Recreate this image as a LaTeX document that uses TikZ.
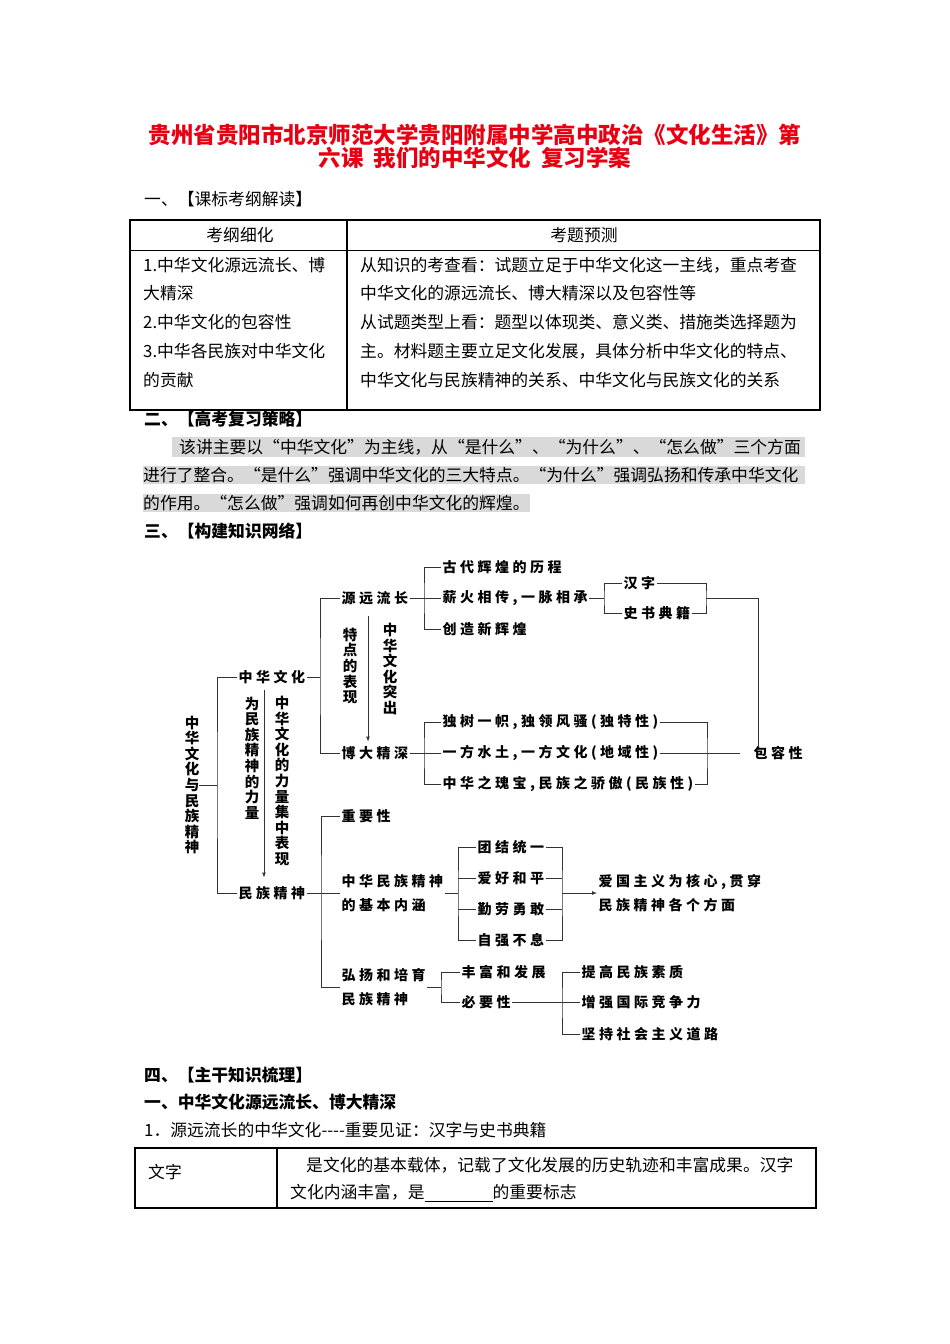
\documentclass[tikz,border=0pt]{standalone}
\usepackage{fontspec}
\setmainfont{Noto Sans CJK SC}
\newfontfamily\dgfont{Noto Sans CJK SC}[LetterSpace=25]
\usetikzlibrary{arrows}
\definecolor{titlered}{RGB}{232,0,18}
\tikzstyle{ttl} = [inner sep=0pt, align=center, text=titlered, font=\bfseries\fontsize{22.5}{23}\selectfont]
\tikzstyle{txt} = [anchor=west, inner sep=0pt, font=\fontsize{16.8}{20}\selectfont]
\tikzstyle{head} = [txt, font=\bfseries\fontsize{16.8}{20}\selectfont]
\tikzstyle{hl} = [txt, fill=black!15, inner ysep=1.5pt, align=left]
\tikzstyle{item} = [anchor=west, inner xsep=1.5pt, inner ysep=0pt, align=left, font=\dgfont\bfseries\fontsize{14}{24}\selectfont]
\tikzstyle{vtext} = [inner sep=0pt, align=center, font=\bfseries\fontsize{14.5}{15.6}\selectfont]
\tikzstyle{conn} = [line width=0.7pt, black!80]
\tikzstyle{arrow} = [conn, ->, >=latex]
\tikzstyle{frame} = [line width=1.6pt]

\begin{document}
\begin{tikzpicture}[x=1pt,y=-1pt]
    \path[use as bounding box, fill=white] (0,0) rectangle (950,1344);

    \node[ttl] (title) at (475,146.5) {贵州省贵阳市北京师范大学贵阳附属中学高中政治《文化生活》第\\六课\hspace{10pt}我们的中华文化\hspace{10pt}复习学案};
    \node[txt] (s1) at (144,199) {一、【课标考纲解读】};

    % table 1
    \draw[frame] (130,220) rectangle (820,410);
    \draw[line width=0.6pt] (130,250) -- (820,250);
    \draw[line width=1.2pt] (347,220) -- (347,410);
    \node[txt, anchor=center] (h1) at (240,235) {考纲细化};
    \node[txt, anchor=center] (h2) at (584,235) {考题预测};
    \node[txt] (a1) at (143,265) {1.中华文化源远流长、博};
    \node[txt] (a2) at (143,293) {大精深};
    \node[txt] (a3) at (143,322) {2.中华文化的包容性};
    \node[txt] (a4) at (143,351) {3.中华各民族对中华文化};
    \node[txt] (a5) at (143,380) {的贡献};
    \node[txt] (b1) at (360,265) {从知识的考查看：试题立足于中华文化这一主线，重点考查};
    \node[txt] (b2) at (360,293) {中华文化的源远流长、博大精深以及包容性等};
    \node[txt] (b3) at (360,322) {从试题类型上看：题型以体现类、意义类、措施类选择题为};
    \node[txt] (b4) at (360,351) {主。材料题主要立足文化发展，具体分析中华文化的特点、};
    \node[txt] (b5) at (360,380) {中华文化与民族精神的关系、中华文化与民族文化的关系};

    \node[head] (s2) at (144,419) {二、【高考复习策略】};
    \node[hl, text width=633pt] (p1) at (172,447) {\hspace*{7pt}该讲主要以“中华文化”为主线，从“是什么”、“为什么”、“怎么做”三个方面};
    \node[hl, text width=662pt] (p2) at (143,475) {进行了整合。“是什么”强调中华文化的三大特点。“为什么”强调弘扬和传承中华文化};
    \node[hl, text width=387pt] (p3) at (143,503) {的作用。“怎么做”强调如何再创中华文化的辉煌。};

    \node[head] (s3) at (144,531) {三、【构建知识网络】};

    % knowledge network
    \node[vtext] (root) at (192,785) {中\\华\\文\\化\\与\\民\\族\\精\\神};
    \node[item] (zhwh) at (237,677) {中华文化};
    \node[item] (mzjs) at (237,893) {民族精神};
    \coordinate (j0) at (217,785);
    \draw[conn] (zhwh.west) -| (j0) |- (mzjs.west);
    \draw[conn] (root.east) -- (j0);

    \node[item] (yylc) at (340,598) {源远流长};
    \node[item] (bdjs) at (340,753) {博大精深};
    \coordinate (j1) at (320,677);
    \draw[conn] (yylc.west) -| (j1) |- (bdjs.west);
    \draw[conn] (zhwh.east) -- (j1);

    \node[vtext] (tdb) at (350,666) {特\\点\\的\\表\\现};
    \node[vtext] (tc) at (390,669) {中\\华\\文\\化\\突\\出};
    \draw[arrow, shorten <=11.5pt, shorten >=4.5pt] ([xshift=28pt]yylc.south west) -- ([xshift=28pt]bdjs.north west);

    \node[vtext] (wmz) at (252,758) {为\\民\\族\\精\\神\\的\\力\\量};
    \node[vtext] (zhl) at (282,781) {中\\华\\文\\化\\的\\力\\量\\集\\中\\表\\现};
    \draw[arrow, shorten <=6pt, shorten >=8.5pt] ([xshift=27pt]zhwh.south west) -- ([xshift=27pt]mzjs.north west);

    \node[item] (gd) at (441,567) {古代辉煌的历程};
    \node[item] (xh) at (441,598) {薪火相传,一脉相承};
    \node[item] (cz) at (441,629) {创造新辉煌};
    \coordinate (j2) at (424,598);
    \draw[conn] (gd.west) -| (j2) |- (cz.west);
    \draw[conn] (yylc.east) -- (xh.west);

    \node[item] (hz) at (622,583) {汉字};
    \node[item] (ss) at (622,613) {史书典籍};
    \coordinate (j3) at (604,598);
    \coordinate (j4) at (706,598);
    \draw[conn] (hz.west) -| (j3) |- (ss.west);
    \draw[conn] (xh.east) -- (j3);
    \draw[conn] (hz.east) -| (j4) |- (ss.east);

    \node[item] (brx) at (752,753) {包容性};
    \draw[conn] (j4) -| ([xshift=6pt]brx.north west);

    \node[item] (dsh) at (441,722) {独树一帜,独领风骚(独特性)};
    \node[item] (dy) at (441,753) {一方水土,一方文化(地域性)};
    \node[item] (zhzg) at (441,784) {中华之瑰宝,民族之骄傲(民族性)};
    \coordinate (j5) at (424,753);
    \coordinate (j6) at (707,753);
    \draw[conn] (dsh.west) -| (j5) |- (zhzg.west);
    \draw[conn] (bdjs.east) -- (dy.west);
    \draw[conn] (dsh.east) -| (j6) |- (zhzg.east);
    \draw[conn] (dy.east) -- ([xshift=-12pt]brx.west);

    \node[item] (zyx) at (340,816) {重要性};
    \node[item] (jbnh) at (340,893) {中华民族精神\\的基本内涵};
    \node[item] (hy) at (340,987) {弘扬和培育\\民族精神};
    \coordinate (j7) at (321,893);
    \draw[conn] (zyx.west) -| (j7) |- (hy.west);
    \draw[conn] (mzjs.east) -- (jbnh.west);

    \node[item] (tj) at (476,847) {团结统一};
    \node[item] (ah) at (476,878) {爱好和平};
    \node[item] (ql) at (476,909) {勤劳勇敢};
    \node[item] (zq) at (476,940) {自强不息};
    \coordinate (j8) at (458,893);
    \coordinate (j9) at (562,893);
    \draw[conn] (tj.west) -| (j8) |- (zq.west);
    \draw[conn] (ah.west) -- (ah.west -| j8);
    \draw[conn] (ql.west) -- (ql.west -| j8);
    \draw[conn] (jbnh.east) -- (j8);
    \draw[conn] (tj.east) -| (j9) |- (zq.east);
    \draw[conn] (ah.east) -- (ah.east -| j9);
    \draw[conn] (ql.east) -- (ql.east -| j9);
    \node[item] (agz) at (597,893) {爱国主义为核心,贯穿\\民族精神各个方面};
    \draw[arrow] (j9) -- (agz.west);

    \node[item] (ff) at (460,972) {丰富和发展};
    \node[item] (byx) at (460,1002) {必要性};
    \coordinate (j10) at (441,987);
    \draw[conn] (ff.west) -| (j10) |- (byx.west);
    \draw[conn] (hy.east) -- (j10);

    \node[item] (tg) at (580,972) {提高民族素质};
    \node[item] (zz) at (580,1002) {增强国际竞争力};
    \node[item] (jc) at (580,1034) {坚持社会主义道路};
    \coordinate (j11) at (562,1002);
    \draw[conn] (tg.west) -| (j11) |- (jc.west);
    \draw[conn] (byx.east) -- (zz.west);

    \node[head] (s4) at (144,1075) {四、【主干知识梳理】};
    \node[head] (s5) at (144,1102) {一、中华文化源远流长、博大精深};
    \node[txt] (s6) at (144,1130) {1．源远流长的中华文化-\kern0pt-\kern0pt-\kern0pt-重要见证：汉字与史书典籍};

    % table 2
    \draw[frame] (135,1148) rectangle (816,1208);
    \draw[line width=1.2pt] (277,1148) -- (277,1208);
    \node[txt] (wz) at (148,1172) {文字};
    \node[txt] (d1) at (306,1165) {是文化的基本载体，记载了文化发展的历史轨迹和丰富成果。汉字};
    \node[txt] (d2) at (290,1193) {文化内涵丰富，是\rule[-3pt]{68pt}{0.6pt}的重要标志};
\end{tikzpicture}
\end{document}
